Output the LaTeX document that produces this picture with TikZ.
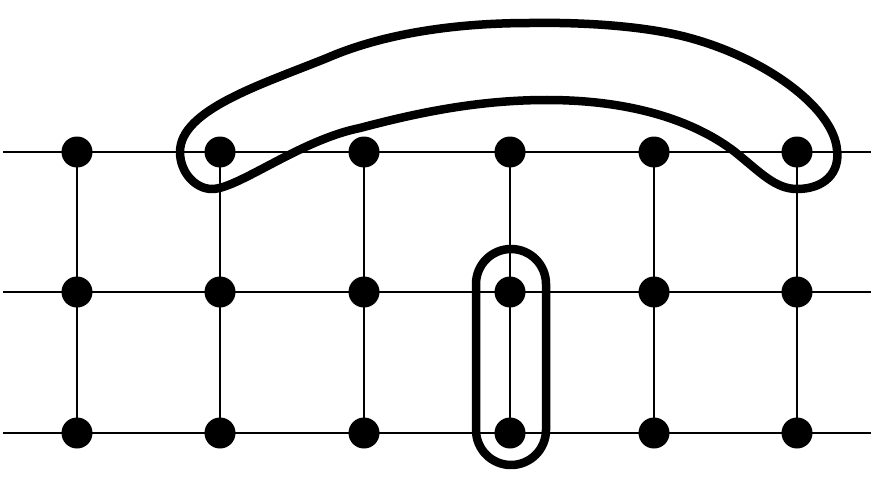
\documentclass[tikz,border=0pt]{standalone}
\usetikzlibrary{calc}
\begin{document}
\begin{tikzpicture}[x=1pt,y=-1pt,
  dot/.style={circle,fill=black,inner sep=0pt,minimum size=31pt},
  gridline/.style={line width=2.7pt,black},
  loopline/.style={line width=8.5pt,black,line join=round}]
\useasboundingbox (0,0) rectangle (888,484);
% row / column positions
\foreach \r/\y in {1/152,2/292,3/433}{
  \coordinate (L\r) at (3,\y);
  \coordinate (R\r) at (871,\y);
}
\foreach \r/\y in {1/152,2/292,3/433}{
  \foreach \c/\x in {1/77,2/220,3/364,4/510,5/654,6/797}{
    \coordinate (p\r\c) at (\x,\y);
  }
}
% grid lines
\foreach \r in {1,2,3}{ \draw[gridline] (L\r) -- (R\r); }
\foreach \c in {1,...,6}{ \draw[gridline] (p1\c) -- (p3\c); }
% dots
\foreach \r in {1,2,3}{
  \foreach \c in {1,...,6}{
    \node[dot] (d\r\c) at (p\r\c) {};
  }
}
% capsule around column 4, rows 2-3
\draw[loopline,rounded corners=35pt] (476,249) rectangle (546,465);
% big loop
\draw[loopline] (180,152)
  .. controls (180,172) and (195,189) .. (212,189)
  .. controls (238,189) and (300,140) .. (360,128)
  .. controls (420,112) and (480,100) .. (547,100)
  .. controls (640,100) and (700,125) .. (735,152)
  .. controls (760,172) and (775,189) .. (797,189)
  .. controls (825,189) and (840,172) .. (837,150)
  .. controls (834,110) and (770,60) .. (690,38)
  .. controls (650,27) and (590,22) .. (530,23)
  .. controls (450,23) and (380,35) .. (327,58)
  .. controls (260,85) and (180,110) .. (180,152) -- cycle;
\end{tikzpicture}
\end{document}
